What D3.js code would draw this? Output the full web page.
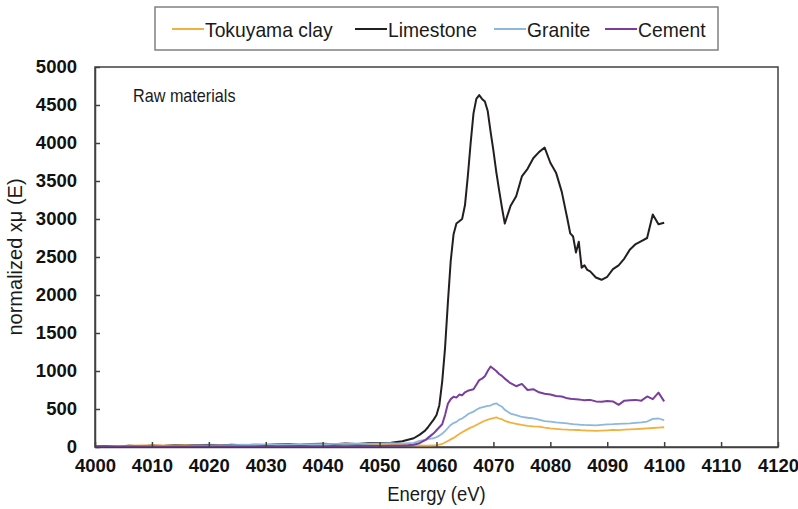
<!DOCTYPE html>
<html>
<head>
<meta charset="utf-8">
<script src="https://cdn.jsdelivr.net/npm/d3@7"></script>
<style>
  html, body { margin: 0; padding: 0; background: #fff; }
  svg { display: block; font-family: "Liberation Sans", Arial, sans-serif; }
</style>
</head>
<body>
<svg id="chart" width="798" height="509"></svg>
<script>
// Energy grid (eV)
const energy = [
  4000,4002,4004,4006,4008,4010,4012,4014,4016,4018,4020,4022,4024,4026,
  4028,4030,4032,4034,4036,4038,4040,4042,4044,4046,4048,4050,4052,4054,
  4055,4056,4057,4058,
  4058.5,4059,4059.5,4060,4060.5,4061,4061.5,4062,4062.5,4063,4063.5,4064,4064.5,4065,
  4065.5,4066,4066.5,4067,4067.5,4068,4068.5,4069,4069.5,4070,4070.5,4071,4071.5,4072,
  4073,4074,4075,4076,4077,4078,4079,4080,4081,4082,4083,
  4083.5,4084,4084.5,4085,4085.5,4086,4086.5,
  4087,4088,4089,4090,4091,4092,4093,4094,4095,4096,4097,4098,4099,4100
];

const tokuyama = [
  10,15,12,18,20,25,22,28,24,26,30,28,25,32,
  28,30,35,30,28,32,30,34,30,28,32,30,28,26,
  25,22,20,18,
  18,20,22,25,30,40,60,80,100,120,145,170,195,215,
  235,255,270,290,310,330,345,360,370,380,390,375,365,345,
  320,305,290,278,272,268,255,245,238,232,228,
  226,225,224,224,220,218,216,
  215,212,216,220,224,222,228,232,236,240,246,250,255,260
];

const limestone = [
  5,12,8,15,10,18,14,20,16,22,25,20,28,24,
  30,26,32,35,30,38,42,36,45,40,48,52,55,75,
  95,115,160,215,
  260,310,360,420,550,860,1300,1900,2450,2800,2940,2970,3000,3180,
  3560,4000,4390,4580,4630,4580,4545,4420,4150,3900,3620,3380,3150,2940,
  3170,3300,3560,3660,3800,3880,3940,3740,3610,3360,3000,
  2810,2770,2560,2700,2360,2390,2330,
  2310,2230,2200,2240,2340,2390,2480,2600,2670,2710,2750,3060,2930,2950
];

const granite = [
  5,8,10,12,10,15,14,18,16,20,22,20,25,28,
  26,30,32,30,35,38,36,40,42,45,40,48,50,45,
  50,55,80,95,
  105,110,115,130,150,175,210,250,290,315,330,360,375,400,
  430,450,465,490,510,520,530,540,545,565,575,550,530,490,
  440,420,395,385,378,360,340,335,325,318,310,
  305,300,298,295,292,290,289,
  288,285,292,298,300,305,308,312,318,325,335,370,375,355
];

const cement = [
  2,3,2,4,3,5,4,5,6,5,7,6,8,7,
  8,9,8,10,9,11,10,12,11,13,14,12,15,18,
  22,30,50,90,
  120,150,180,220,260,300,420,570,630,660,650,690,680,720,
  740,750,760,820,880,900,930,1000,1060,1030,1000,960,935,900,
  840,800,830,750,760,720,700,690,670,665,640,
  635,630,628,625,620,615,618,
  620,600,595,605,600,555,610,615,620,610,665,630,715,600
];

const xTicks = d3.range(4000, 4121, 10);
const yTicks = d3.range(0, 5001, 500);

const series = [
  { name: "Tokuyama clay", values: tokuyama,  color: "#f4b03e", width: 1.8 },
  { name: "Limestone",     values: limestone, color: "#231f20", width: 2 },
  { name: "Granite",       values: granite,   color: "#8db7dd", width: 1.8 },
  { name: "Cement",        values: cement,    color: "#7a3f9d", width: 2 }
];

const svg = d3.select("#chart");
const x = d3.scaleLinear().domain([4000, 4120]).range([95, 778]);
const y = d3.scaleLinear().domain([0, 5000]).range([447, 67]);

const axisColor = "#404040";

// horizontally condensed text helper
function label(parent, tx, ty, str, size, sx, opts = {}) {
  return parent.append("text")
    .attr("transform", `translate(${tx},${ty}) ${opts.rotate ? "rotate(-90)" : ""} scale(${sx},1)`)
    .attr("text-anchor", opts.anchor || "start")
    .attr("fill", opts.fill || "#1a1a1a")
    .style("font-size", size + "px")
    .text(str);
}

// plot frame
svg.append("rect")
  .attr("x", x(4000)).attr("y", y(5000))
  .attr("width", x(4120) - x(4000)).attr("height", y(0) - y(5000))
  .attr("fill", "none").attr("stroke", axisColor).attr("stroke-width", 1.5);

// series lines
const line = d3.line()
  .x((d, i) => x(energy[i]))
  .y(d => y(d));

series.forEach(s => {
  svg.append("path")
    .datum(s.values)
    .attr("d", line)
    .attr("fill", "none")
    .attr("stroke", s.color)
    .attr("stroke-width", s.width)
    .attr("stroke-linejoin", "round");
});

// axes with inward ticks
const xAxis = svg.append("g")
  .attr("transform", `translate(0,${y(0)})`)
  .call(d3.axisBottom(x).tickValues(xTicks).tickSizeInner(-5).tickSizeOuter(0).tickPadding(12).tickFormat(d3.format("d")));
const yAxis = svg.append("g")
  .attr("transform", `translate(${x(4000)},0)`)
  .call(d3.axisLeft(y).tickValues(yTicks).tickSizeInner(-5).tickSizeOuter(0).tickPadding(18).tickFormat(d3.format("d")));

[xAxis, yAxis].forEach(g => {
  g.select(".domain").attr("stroke", axisColor).attr("stroke-width", 1.5);
  g.selectAll(".tick line").attr("stroke", axisColor).attr("stroke-width", 1.5);
  g.selectAll(".tick text")
    .attr("fill", "#111")
    .style("font-size", "18.5px")
    .style("font-weight", "bold")
    .style("font-family", "'Liberation Sans', Arial, sans-serif");
});

// axis titles
label(svg, (x(4000) + x(4120)) / 2, 501, "Energy (eV)", 20.5, 0.9, { anchor: "middle" });
label(svg, 22, (y(0) + y(5000)) / 2, "normalized xμ (E)", 20, 1, { anchor: "middle", rotate: true });
label(svg, 133, 101.5, "Raw materials", 18, 0.9);

// legend
const legend = svg.append("g");
legend.append("rect")
  .attr("x", 155).attr("y", 7).attr("width", 563).attr("height", 43)
  .attr("fill", "#fff").attr("stroke", "#808080").attr("stroke-width", 1.5);

const legendX = [172, 355, 494, 605];
series.forEach((s, i) => {
  const g = legend.append("g").attr("transform", `translate(${legendX[i]},29)`);
  g.append("line").attr("x1", 0).attr("x2", 32).attr("y1", 0).attr("y2", 0)
    .attr("stroke", s.color).attr("stroke-width", 2);
  label(g, 33, 7.5, s.name, 20, 0.965);
});
</script>
</body>
</html>
